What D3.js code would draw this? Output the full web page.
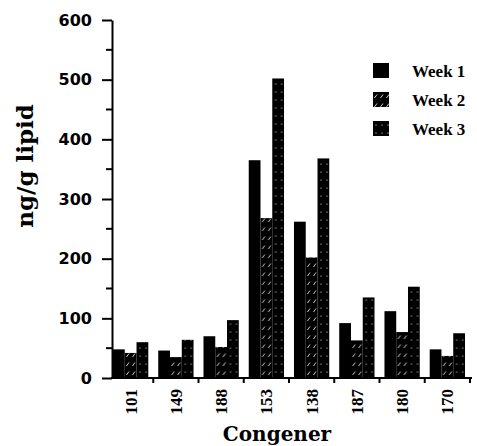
<!DOCTYPE html>
<html>
<head>
<meta charset="utf-8">
<script src="https://cdn.jsdelivr.net/npm/d3@7"></script>
<style>
  body { margin: 0; background: #fff; }
  svg { display: block; }
</style>
</head>
<body>
<svg id="chart" width="477" height="446"></svg>
<script>
// data
const congeners = ['101', '149', '188', '153', '138', '187', '180', '170'];
const weeks = ['Week 1', 'Week 2', 'Week 3'];
const week1 = [48, 46, 70, 365, 262, 92, 112, 48];
const week2 = [42, 35, 52, 268, 202, 63, 77, 37];
const week3 = [60, 64, 97, 502, 368, 135, 153, 75];
const yTicks = [0, 100, 200, 300, 400, 500, 600];
const yMinorTicks = [50, 150, 250, 350, 450, 550];

const series = [week1, week2, week3];
const fills = ['#000', 'url(#hatch)', 'url(#dots)'];

const svg = d3.select('#chart'),
  width = +svg.attr('width'),
  height = +svg.attr('height');

const plotLeft = 112, plotRight = 472, plotTop = 20, plotBottom = 378;

// patterns for week 2 (hatched) and week 3 (dotted), mostly black like the scan
const defs = svg.append('defs');
const hatch = defs.append('pattern')
  .attr('id', 'hatch')
  .attr('patternUnits', 'userSpaceOnUse')
  .attr('width', 6)
  .attr('height', 9);
hatch.append('rect').attr('width', 6).attr('height', 9).attr('fill', '#000');
hatch.append('path')
  .attr('d', 'M1.5,6 L4,2.5')
  .attr('stroke', '#fff')
  .attr('stroke-width', 0.8);

const dots = defs.append('pattern')
  .attr('id', 'dots')
  .attr('patternUnits', 'userSpaceOnUse')
  .attr('width', 6)
  .attr('height', 8);
dots.append('rect').attr('width', 6).attr('height', 8).attr('fill', '#000');
dots.append('circle').attr('cx', 3).attr('cy', 4).attr('r', 0.6).attr('fill', '#fff');

const x0 = d3.scaleBand()
  .domain(congeners)
  .range([plotLeft + 1, 465])
  .paddingInner(0.22);

const x1 = d3.scaleBand()
  .domain(weeks)
  .range([0, x0.bandwidth()]);

const y = d3.scaleLinear()
  .domain([0, 600])
  .range([plotBottom, plotTop]);

// bars
const groups = svg.append('g')
  .selectAll('g')
  .data(congeners)
  .join('g')
  .attr('transform', d => 'translate(' + x0(d) + ',0)');

groups.selectAll('rect')
  .data((d, i) => weeks.map((w, j) => ({week: w, value: series[j][i], fill: fills[j]})))
  .join('rect')
  .attr('x', d => x1(d.week))
  .attr('width', x1.bandwidth())
  .attr('y', d => y(d.value))
  .attr('height', d => y(0) - y(d.value))
  .attr('fill', d => d.fill);

// y axis
const yAxis = svg.append('g')
  .attr('transform', 'translate(' + plotLeft + ',0)')
  .call(d3.axisLeft(y).tickValues(yTicks).tickSize(10).tickSizeOuter(0).tickPadding(10));
yAxis.select('.domain').attr('stroke-width', 2);
yAxis.selectAll('.tick line').attr('stroke-width', 2);
yAxis.selectAll('.tick text')
  .style('font-family', '"DejaVu Sans", sans-serif')
  .style('font-weight', 'bold')
  .style('font-size', '16px')
  .attr('fill', '#000');

svg.append('g')
  .selectAll('line')
  .data(yMinorTicks)
  .join('line')
  .attr('x1', plotLeft - 6)
  .attr('x2', plotLeft)
  .attr('y1', d => y(d))
  .attr('y2', d => y(d))
  .attr('stroke', '#000')
  .attr('stroke-width', 2);

// x axis line and group ticks
svg.append('line')
  .attr('x1', plotLeft - 1)
  .attr('x2', plotRight)
  .attr('y1', plotBottom)
  .attr('y2', plotBottom)
  .attr('stroke', '#000')
  .attr('stroke-width', 2);

const gap = x0.step() - x0.bandwidth();
svg.append('g')
  .selectAll('line')
  .data(congeners)
  .join('line')
  .attr('x1', d => x0(d) + x0.bandwidth() + gap / 2)
  .attr('x2', d => x0(d) + x0.bandwidth() + gap / 2)
  .attr('y1', plotBottom)
  .attr('y2', plotBottom + 5)
  .attr('stroke', '#000')
  .attr('stroke-width', 2);

// x tick labels, rotated
svg.append('g')
  .selectAll('text')
  .data(congeners)
  .join('text')
  .attr('transform', d => 'translate(' + (x0(d) + x0.bandwidth() / 2) + ',389) rotate(-90)')
  .attr('text-anchor', 'end')
  .attr('dy', '0.35em')
  .style('font-family', '"Liberation Serif", serif')
  .style('font-weight', 'bold')
  .style('font-size', '17px')
  .text(d => d);

// axis titles
svg.append('text')
  .attr('x', 277)
  .attr('y', 441)
  .attr('text-anchor', 'middle')
  .style('font-family', '"DejaVu Serif", serif')
  .style('font-weight', 'bold')
  .style('font-size', '20px')
  .text('Congener');

svg.append('text')
  .attr('transform', 'translate(33,166) rotate(-90)')
  .attr('text-anchor', 'middle')
  .style('font-family', '"DejaVu Serif", serif')
  .style('font-weight', 'bold')
  .style('font-size', '23px')
  .text('ng/g lipid');

// legend
const legend = svg.append('g')
  .selectAll('g')
  .data(weeks)
  .join('g')
  .attr('transform', (d, i) => 'translate(373,' + (63 + i * 29) + ')');

legend.append('rect')
  .attr('width', 16)
  .attr('height', 15)
  .attr('fill', (d, i) => fills[i]);

legend.append('text')
  .attr('x', 39)
  .attr('y', 8)
  .attr('dy', '0.35em')
  .style('font-family', '"Liberation Serif", serif')
  .style('font-weight', 'bold')
  .style('font-size', '17px')
  .text(d => d);
</script>
</body>
</html>
